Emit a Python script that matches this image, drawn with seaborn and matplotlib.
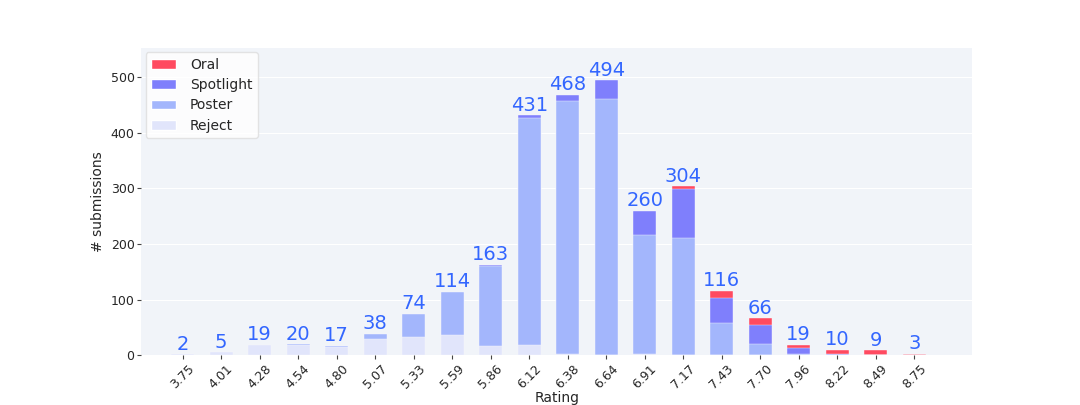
import numpy as np
import pandas as pd
import seaborn as sns
import matplotlib
matplotlib.use('Agg')
import matplotlib.pyplot as plt
from matplotlib.patches import Patch

ratings = ['3.75', '4.01', '4.28', '4.54', '4.80', '5.07', '5.33', '5.59', '5.86', '6.12',
           '6.38', '6.64', '6.91', '7.17', '7.43', '7.70', '7.96', '8.22', '8.49', '8.75']
reject = [2, 5, 19, 18, 14, 30, 33, 36, 17, 19, 3, 1, 2, 1, 1, 0, 0, 0, 0, 0]
poster = [0, 0, 0, 2, 3, 8, 41, 77, 143, 407, 454, 459, 214, 210, 56, 20, 2, 0, 0, 0]
spotlight = [0, 0, 0, 0, 0, 0, 0, 1, 3, 5, 11, 34, 44, 87, 45, 35, 11, 3, 1, 0]
oral = [0, 0, 0, 0, 0, 0, 0, 0, 0, 0, 0, 0, 0, 6, 14, 11, 6, 7, 8, 3]

cats = ['Oral', 'Spotlight', 'Poster', 'Reject']
colors = {'Oral': '#ff4a60', 'Spotlight': '#7f7ffc', 'Poster': '#a3b6fc', 'Reject': '#e1e5fb'}

df = pd.DataFrame({'Rating': ratings, 'Reject': reject, 'Poster': poster,
                   'Spotlight': spotlight, 'Oral': oral})
# cumulative heights so that drawing tallest first gives a stacked look
df['cum_Reject'] = df['Reject']
df['cum_Poster'] = df['cum_Reject'] + df['Poster']
df['cum_Spotlight'] = df['cum_Poster'] + df['Spotlight']
df['cum_Oral'] = df['cum_Spotlight'] + df['Oral']

sns.set_style('darkgrid', {'axes.facecolor': '#f1f4f9', 'grid.color': 'white'})

fig = plt.figure(figsize=(10.8, 4.05), dpi=100)
ax = fig.add_axes([0.131, 0.123, 0.769, 0.758])

for c in cats:
    sns.barplot(data=df, x='Rating', y='cum_' + c, color=colors[c], width=0.6,
                saturation=1, edgecolor='#f6f7fc', linewidth=0.3, ax=ax)

for i, tot in enumerate(df['cum_Oral']):
    ax.text(i, tot + 1, str(tot), ha='center', va='bottom', fontsize=14, color='#3366ff')

ax.set_ylim(0, 552)
ax.set_xlim(-1.07, 20.5)
ax.set_yticks([0, 100, 200, 300, 400, 500])
ax.tick_params(axis='both', which='both', length=3, color='#444444', labelsize=9,
               bottom=True, left=True, pad=2)
plt.setp(ax.get_xticklabels(), rotation=45)
ax.set_xlabel('Rating', fontsize=10, labelpad=0)
ax.set_ylabel('# submissions', fontsize=10)
for s in ax.spines.values():
    s.set_visible(False)

handles = [Patch(facecolor=colors[c], label=c) for c in cats]
ax.legend(handles=handles, loc='upper left', fontsize=10, frameon=True,
          facecolor='white', edgecolor='#dddddd', handlelength=1.8,
          handletextpad=1.0, borderaxespad=0.3, labelspacing=0.45)

fig.savefig('out.png', dpi=100)
